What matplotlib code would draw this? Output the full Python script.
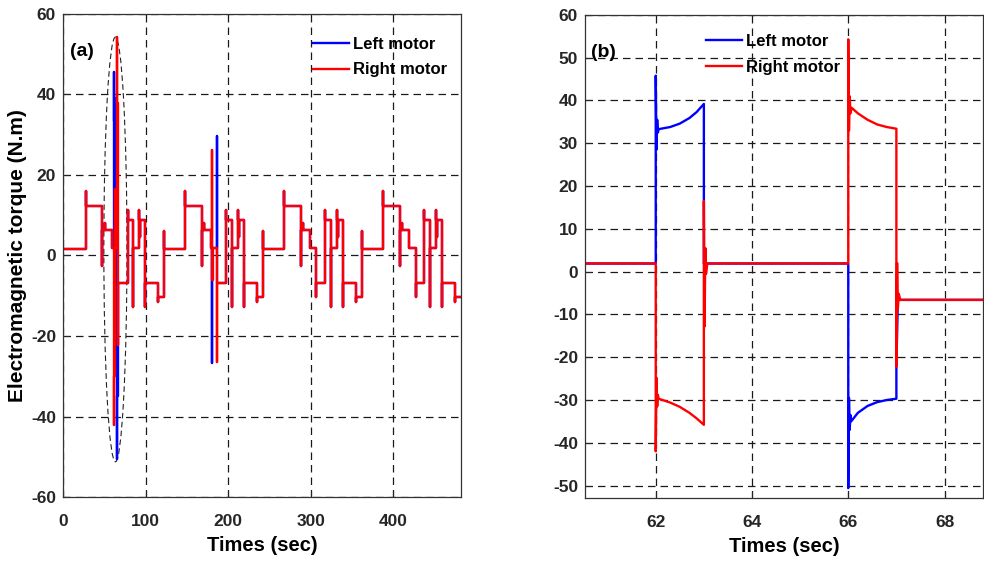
import numpy as np
import matplotlib
matplotlib.use("Agg")
import matplotlib.pyplot as plt
from matplotlib.patches import Ellipse

plt.rcParams['font.family'] = ['Liberation Sans', 'DejaVu Sans']
plt.rcParams['font.weight'] = 'bold'
plt.rcParams['axes.unicode_minus'] = False

# ---- panel (a): torque over the whole run, written as step events
# each event: time, spike reached at the switch, level held afterwards
start_level = 1.7
t_end = 482

step_t = [27.5, 47.8, 50.5, 59.5, 79.0, 85.0, 91.5, 93.0, 99.5, 114.5,
          122.0, 147.5, 167.8, 170.5, 179.5, 198.0, 205.0, 211.5, 213.0, 219.5, 234.5,
          242.0, 267.5, 287.8, 290.5, 299.5, 307.0, 317.5, 325.0, 331.5, 333.0, 339.5, 354.5,
          362.0, 387.5, 407.8, 410.5, 419.5, 427.0, 437.5, 445.0, 451.5, 453.0, 459.5, 474.5]
step_spike = [16.1, -2.5, 8.0, 6.4, 11.2, -12.8, 11.2, 4.5, -12.8, -11.5,
              6.2, 16.1, -2.5, 8.0, 6.4, 11.2, -12.8, 11.2, 4.5, -12.8, -11.5,
              6.2, 16.1, -2.5, 8.0, 6.4, -10.3, 11.2, -12.8, 11.2, 4.5, -12.8, -11.5,
              6.2, 16.1, -2.5, 8.0, 6.4, -10.3, 11.2, -12.8, 11.2, 4.5, -12.8, -11.5]
step_level = [12.2, 6.4, 6.4, 1.9, 8.7, 1.9, 8.7, 8.7, -6.8, -10.4,
              1.7, 12.2, 6.4, 6.4, 1.9, 8.7, 1.9, 8.7, 8.7, -6.8, -10.4,
              1.7, 12.2, 6.4, 6.4, 1.9, -6.8, 8.7, 1.9, 8.7, 8.7, -6.8, -10.4,
              1.7, 12.2, 6.4, 6.4, 1.9, -6.8, 8.7, 1.9, 8.7, 8.7, -6.8, -10.4]

# turning manoeuvres, where the two motors differ
left_turn_t = [62.0, 63.0, 66.0, 67.0, 181.0, 187.0]
left_turn_spike = [45.5, 39.2, -50.6, -22.8, -26.7, 29.8]
left_turn_level = [33.5, 1.9, -35.0, -6.8, 1.9, -6.8]

right_turn_t = [62.0, 63.0, 63.3, 66.0, 67.0, 181.0, 181.5, 187.0]
right_turn_spike = [-42.0, 16.5, -12.8, 54.3, -22.2, 26.2, -6.0, -26.5]
right_turn_level = [-30.0, -12.8, 1.9, 38.0, -6.8, -6.0, 1.9, -6.8]

# ---- panel (b): zoom on the first turn
left_b_t = [60.5, 62.0, 62.0, 62.015, 62.03, 62.045, 62.06, 62.3, 62.5, 62.7, 62.85, 63.0,
            63.0, 63.02, 63.05,
            66.0, 66.0, 66.015, 66.03, 66.045, 66.06, 66.2, 66.4, 66.6, 66.8, 67.0,
            67.0, 67.03, 68.8]
left_b_y = [1.9, 1.9, 45.8, 28.5, 35.5, 32.5, 33.3, 33.8, 34.6, 35.9, 37.3, 39.2,
            1.9, 3.0, 1.9,
            1.9, -50.6, -29.5, -37.0, -33.5, -35.0, -33.0, -31.4, -30.5, -30.0, -29.7,
            -22.5, -6.6, -6.6]

right_b_t = [60.5, 62.0, 62.0, 62.015, 62.03, 62.045, 62.06, 62.3, 62.5, 62.7, 62.85, 63.0,
             63.0, 63.015, 63.03, 63.045, 63.07,
             66.0, 66.0, 66.015, 66.03, 66.045, 66.07, 66.2, 66.4, 66.6, 66.8, 67.0,
             67.0, 67.015, 67.03, 67.05, 67.08, 68.8]
right_b_y = [1.9, 1.9, -42.0, -24.8, -31.5, -28.8, -29.7, -30.6, -31.6, -33.0, -34.3, -35.8,
             16.5, -12.8, 5.5, -0.5, 1.9,
             1.9, 54.3, 33.0, 41.0, 37.0, 38.3, 37.0, 35.5, 34.4, 33.8, 33.4,
             -22.2, 2.0, -8.8, -5.2, -6.6, -6.6]


def build_trace(ts, spikes, levels):
    order = np.argsort(ts, kind='stable')
    xs, ys = [0.0], [start_level]
    prev = start_level
    for i in order:
        xs += [ts[i], ts[i], ts[i]]
        ys += [prev, spikes[i], levels[i]]
        prev = levels[i]
    xs.append(t_end)
    ys.append(prev)
    return xs, ys


left_a = build_trace(step_t + left_turn_t, step_spike + left_turn_spike,
                     step_level + left_turn_level)
right_a = build_trace(step_t + right_turn_t, step_spike + right_turn_spike,
                      step_level + right_turn_level)

blue = (0.0, 0.0, 1.0)
red = (1.0, 0.0, 0.0)
grid_kw = dict(color='#1a1a1a', linestyle=(0, (6, 4)), linewidth=0.9)
legend_kw = dict(loc='upper left', frameon=False, borderpad=0, borderaxespad=0,
                 handlelength=2.15, handletextpad=0.25, labelspacing=0.62,
                 prop={'weight': 'bold', 'size': 12})

fig = plt.figure(figsize=(9.84, 5.63), dpi=100)
ax1 = fig.add_axes([0.064, 0.1172, 0.4045, 0.858])
ax2 = fig.add_axes([0.5945, 0.1155, 0.4045, 0.858])

# (a)
ax1.plot(*left_a, color=blue, lw=1.7, label='Left motor')
ax1.plot(*right_a, color=red, lw=1.7, label='Right motor')
ax1.add_patch(Ellipse((63.5, 1.5), 28, 105.5, fill=False, edgecolor='#222222',
                      linestyle=(0, (5, 3)), linewidth=0.8))
ax1.set_xlim(0, t_end)
ax1.set_ylim(-60, 60)
ax1.set_xticks([0, 100, 200, 300, 400])
ax1.set_yticks(np.arange(-60, 61, 20))
ax1.set_xlabel('Times (sec)', fontsize=14.5, fontweight='bold', labelpad=5)
ax1.set_ylabel('Electromagnetic torque (N.m)', fontsize=15, fontweight='bold', labelpad=3)
ax1.text(0.018, 0.923, '(a)', transform=ax1.transAxes, fontsize=14, fontweight='bold',
         va='center', ha='left')
ax1.legend(bbox_to_anchor=(0.628, 0.952), **legend_kw)

# (b)
ax2.plot(left_b_t, left_b_y, color=blue, lw=1.7, label='Left motor')
ax2.plot(right_b_t, right_b_y, color=red, lw=1.7, label='Right motor')
ax2.set_xlim(60.53, 68.8)
ax2.set_ylim(-52.9, 60)
ax2.set_xticks([62, 64, 66, 68])
ax2.set_yticks(np.arange(-50, 61, 10))
ax2.set_xlabel('Times (sec)', fontsize=14.5, fontweight='bold', labelpad=5)
ax2.text(0.015, 0.923, '(b)', transform=ax2.transAxes, fontsize=14, fontweight='bold',
         va='center', ha='left')
ax2.legend(bbox_to_anchor=(0.304, 0.960), **legend_kw)

for ax in (ax1, ax2):
    ax.grid(True, **grid_kw)
    ax.tick_params(direction='in', length=4, width=0.8, labelsize=12.5, colors='#262626')
    ax.tick_params(axis='x', pad=12)
    ax.tick_params(axis='y', pad=5)
    for lab in ax.get_xticklabels() + ax.get_yticklabels():
        lab.set_fontweight('bold')
    for sp in ax.spines.values():
        sp.set_color('#333333')
        sp.set_linewidth(0.9)

fig.savefig('out.png', dpi=100)
